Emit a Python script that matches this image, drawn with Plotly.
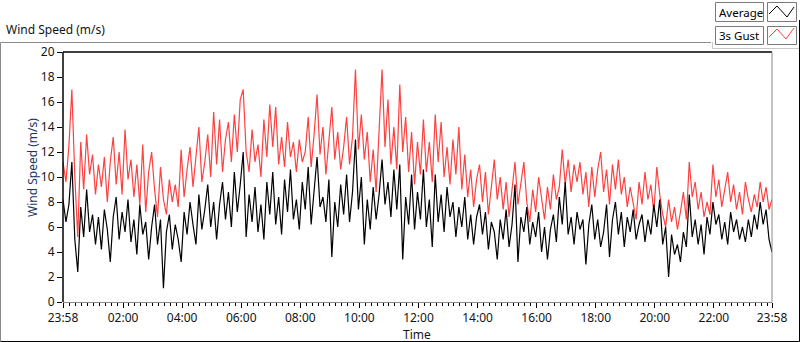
import pandas as pd
import plotly.graph_objects as go

# ---- data (6-minute steps from 23:58 to 23:58) ----
start_time = "2024-01-01 23:58"
end_time = "2024-01-02 23:58"
step = "6min"

gust_3s = [
    11.2, 9.6, 12.5, 17.0, 10.0, 5.2, 12.8, 9.0, 13.4, 10.2,
    11.8, 8.6, 11.0, 9.2, 11.6, 8.0, 11.2, 13.2, 9.4, 12.0,
    8.6, 13.8, 9.8, 11.4, 8.4, 11.0, 7.8, 12.6, 7.2, 10.4,
    12.0, 9.0, 6.8, 10.8, 8.2, 7.0, 9.8, 8.0, 9.4, 7.6,
    12.2, 8.4, 10.6, 12.4, 9.2, 11.8, 14.0, 9.6, 11.2, 13.4,
    10.0, 15.2, 11.0, 14.6, 10.4, 13.0, 14.4, 11.2, 15.0, 12.0,
    16.2, 17.0, 12.0, 10.4, 13.8, 11.2, 12.6, 10.0, 14.6, 11.6,
    15.8, 12.4, 15.6, 11.0, 13.2, 10.8, 14.4, 11.6, 12.8, 10.4,
    13.0, 11.2, 12.0, 14.8, 10.8, 13.4, 16.6, 11.8, 14.0, 10.2,
    13.0, 15.6, 11.4, 13.6, 10.6, 12.4, 14.8, 11.0, 13.2, 18.6,
    12.2, 15.0, 11.4, 13.6, 9.6, 12.2, 8.8, 14.2, 18.6, 12.4,
    16.2, 11.0, 14.0, 10.6, 17.4, 12.0, 14.8, 10.4, 13.6, 9.4,
    12.8, 10.2, 14.6, 10.4, 12.8, 9.6, 15.0, 11.2, 14.4, 10.0,
    12.4, 9.4, 13.0, 10.2, 14.0, 9.0, 11.8, 8.4, 10.6, 7.6,
    9.8, 11.0, 8.0, 10.4, 7.0, 9.2, 11.4, 8.2, 10.0, 7.4,
    9.6, 6.8, 8.8, 11.2, 7.8, 9.4, 11.2, 8.0, 6.4, 9.0,
    7.2, 10.0, 8.4, 6.6, 9.2, 7.4, 10.2, 8.2, 9.2, 12.2,
    9.4, 11.4, 8.8, 11.0, 9.6, 11.2, 8.6, 10.4, 7.6, 10.8,
    8.4, 10.6, 12.0, 8.8, 10.6, 7.8, 11.0, 9.0, 11.4, 8.6,
    10.0, 7.6, 9.2, 8.0, 6.6, 9.6, 7.8, 10.4, 8.2, 9.4,
    7.2, 10.8, 8.6, 7.0, 6.0, 8.2, 6.4, 7.6, 5.8, 7.2,
    8.8, 6.6, 11.2, 8.4, 9.6, 7.4, 8.8, 6.8, 8.0, 7.0,
    11.0, 8.4, 9.8, 7.6, 9.0, 10.4, 8.0, 9.4, 7.4, 8.8,
    7.0, 9.6, 8.2, 7.2, 8.6, 7.6, 9.6, 8.0, 9.2, 7.4,
    8.2,
]

average = [
    8.2, 6.4, 7.8, 11.2, 5.0, 2.4, 7.6, 5.2, 9.0, 5.6,
    7.0, 4.6, 6.8, 4.2, 7.4, 5.8, 3.2, 6.8, 8.4, 5.0,
    7.2, 5.6, 8.2, 4.8, 6.6, 3.8, 7.8, 5.4, 6.4, 3.4,
    6.0, 7.8, 4.6, 6.6, 1.1, 5.6, 7.0, 4.2, 6.2, 5.0,
    3.2, 7.2, 5.4, 8.0, 6.2, 4.6, 8.6, 5.8, 7.4, 9.4,
    6.0, 8.0, 5.0, 7.8, 9.6, 6.6, 8.8, 6.0, 10.4, 7.2,
    9.4, 12.0, 5.2, 8.6, 6.4, 9.2, 5.6, 7.8, 5.0, 9.6,
    7.0, 10.4, 6.2, 8.4, 5.4, 9.8, 7.2, 10.6, 6.6, 8.2,
    5.8, 9.6, 7.4, 10.8, 6.2, 9.0, 11.6, 7.6, 8.4, 6.4,
    9.8, 3.6, 8.0, 6.0, 9.4, 7.0, 10.2, 6.4, 8.8, 13.0,
    7.4, 10.0, 4.6, 8.2, 5.8, 9.2, 6.6, 8.6, 11.4, 7.8,
    9.6, 6.8, 10.6, 7.4, 11.0, 3.4, 8.4, 6.2, 10.2, 5.8,
    8.8, 6.6, 10.6, 6.0, 8.2, 4.4, 10.2, 6.4, 8.6, 5.6,
    9.2, 6.8, 8.0, 5.2, 7.6, 6.0, 8.4, 5.0, 7.0, 4.6,
    6.8, 7.8, 5.4, 7.2, 4.2, 6.4, 5.6, 3.4, 6.6, 5.0,
    7.4, 4.4, 6.2, 9.4, 3.2, 6.8, 5.6, 7.6, 4.6, 6.4,
    5.2, 7.2, 4.0, 6.0, 3.4, 5.8, 7.0, 4.8, 8.4, 6.2,
    9.6, 5.4, 6.8, 4.6, 7.2, 5.8, 6.6, 3.0, 6.2, 7.8,
    5.0, 6.6, 4.4, 5.6, 7.8, 3.6, 6.6, 8.0, 5.4, 7.2,
    4.4, 6.8, 5.6, 7.4, 5.0, 6.2, 7.0, 4.8, 6.6, 5.4,
    7.8, 6.0, 8.2, 4.6, 6.0, 2.0, 5.4, 3.8, 4.6, 3.2,
    5.6, 4.4, 8.6, 5.2, 6.6, 4.6, 6.2, 3.8, 6.8, 5.4,
    8.0, 6.2, 7.0, 5.0, 6.4, 4.6, 7.2, 5.6, 6.6, 5.0,
    6.0, 4.8, 6.6, 5.2, 7.0, 5.8, 8.0, 6.2, 7.4, 5.0,
    4.0,
]

y_ticks = [0, 2, 4, 6, 8, 10, 12, 14, 16, 18, 20]
x_tick_times = ["2024-01-01 23:58", "2024-01-02 02:00", "2024-01-02 04:00",
                "2024-01-02 06:00", "2024-01-02 08:00", "2024-01-02 10:00",
                "2024-01-02 12:00", "2024-01-02 14:00", "2024-01-02 16:00",
                "2024-01-02 18:00", "2024-01-02 20:00", "2024-01-02 22:00",
                "2024-01-02 23:58"]
x_tick_labels = ["23:58", "02:00", "04:00", "06:00", "08:00", "10:00", "12:00",
                 "14:00", "16:00", "18:00", "20:00", "22:00", "23:58"]

times = pd.date_range(start_time, periods=len(average), freq=step)

# ---- layout geometry (pixels) ----
W, H = 800, 342
L, R, T, B = 63, 772, 52, 302


def xp(px):
    return (px - L) / (R - L)


def yp(py):
    return (B - py) / (B - T)


FONT = "Noto Sans"
TXT = "#141414"

fig = go.Figure()
fig.add_trace(go.Scatter(x=times, y=gust_3s, mode="lines", name="3s Gust",
                         line=dict(color="#ff4040", width=1.2)))
fig.add_trace(go.Scatter(x=times, y=average, mode="lines", name="Average",
                         line=dict(color="#000000", width=1.2)))

fig.update_layout(
    width=W, height=H,
    margin=dict(l=L, r=W - R, t=T, b=H - B, pad=0),
    paper_bgcolor="white", plot_bgcolor="white",
    showlegend=False,
    font=dict(family=FONT, size=12, color=TXT),
    xaxis=dict(
        type="date", range=[start_time, end_time],
        tickvals=x_tick_times, ticktext=x_tick_labels,
        ticks="outside", ticklen=5, tickwidth=1, tickcolor="#000000",
        minor=dict(dtick=720000, tick0="2024-01-02 00:00", ticks="outside",
                   ticklen=3, tickcolor="#000000", showgrid=False),
        showgrid=False, zeroline=False, showline=False,
        tickfont=dict(family=FONT, size=12, color=TXT),
        fixedrange=True,
    ),
    yaxis=dict(
        range=[0, 20], tickvals=y_ticks,
        ticks="outside", ticklen=5, tickwidth=1, tickcolor="#000000",
        showgrid=False, zeroline=False, showline=False,
        tickfont=dict(family=FONT, size=12, color=TXT),
        fixedrange=True,
    ),
)

shapes = []


def line(x0, y0, x1, y1, color, width=1):
    shapes.append(dict(type="line", xref="paper", yref="paper",
                       x0=xp(x0), y0=yp(y0), x1=xp(x1), y1=yp(y1),
                       line=dict(color=color, width=width)))


# outer frame
line(0.5, 42.5, 711, 42.5, "#8a8a8a")
line(0.5, 42.5, 0.5, 341.5, "#8a8a8a")
line(0.5, 341.5, 799.5, 341.5, "#000000")
line(799.5, 20, 799.5, 341.5, "#000000")
line(712.5, 42, 712.5, 48.5, "#c8c8c8")
line(712.5, 48.5, 799, 48.5, "#c8c8c8")
# plot frame
line(L, T, R, T, "#000000", 1.5)
line(L, T, L, B, "#000000", 1.5)
line(R, T, R, B + 0.5, "#8a8a8a")
line(L, B + 0.5, R, B + 0.5, "#8a8a8a")

# legend boxes
for (y0, y1) in [(2.5, 21.5), (26.5, 44.5)]:
    for (x0, x1) in [(715.5, 763.5), (767.5, 796.5)]:
        shapes.append(dict(type="rect", xref="paper", yref="paper",
                           x0=xp(x0), x1=xp(x1), y0=yp(y1), y1=yp(y0),
                           line=dict(color="#7a7a7a", width=1),
                           fillcolor="white"))


def zig(pts, color):
    path = "M " + " L ".join(f"{xp(a)},{yp(b)}" for a, b in pts)
    shapes.append(dict(type="path", xref="paper", yref="paper", path=path,
                       line=dict(color=color, width=1)))


zig([(769, 14), (777, 6), (787, 17), (794, 7)], "#000000")
zig([(769, 37), (777, 29), (786, 39), (794, 28)], "#ff4040")

fig.update_layout(shapes=shapes)

annotations = [
    dict(text="Wind Speed (m/s)", x=xp(4), y=yp(30), xanchor="left",
         yanchor="middle", font=dict(size=12, color=TXT, family=FONT)),
    dict(text="Wind Speed (m/s)", x=xp(32), y=yp(168), textangle=-90,
         xanchor="center", yanchor="middle",
         font=dict(size=12, color="#1c3566", family=FONT)),
    dict(text="Time", x=xp(417), y=yp(334), xanchor="center", yanchor="middle",
         font=dict(size=12, color=TXT, family=FONT)),
    dict(text="Average", x=xp(717), y=yp(12), xanchor="left", yanchor="middle",
         font=dict(size=11.5, color="#000000", family=FONT)),
    dict(text="3s Gust", x=xp(717), y=yp(35.5), xanchor="left", yanchor="middle",
         font=dict(size=11.5, color="#000000", family=FONT)),
]
for a in annotations:
    a.update(xref="paper", yref="paper", showarrow=False)
fig.update_layout(annotations=annotations)

fig.write_html("out.html",
               config={"displayModeBar": False, "staticPlot": True},
               post_script="document.body.style.margin='0';"
                           "document.body.style.overflow='hidden';")
